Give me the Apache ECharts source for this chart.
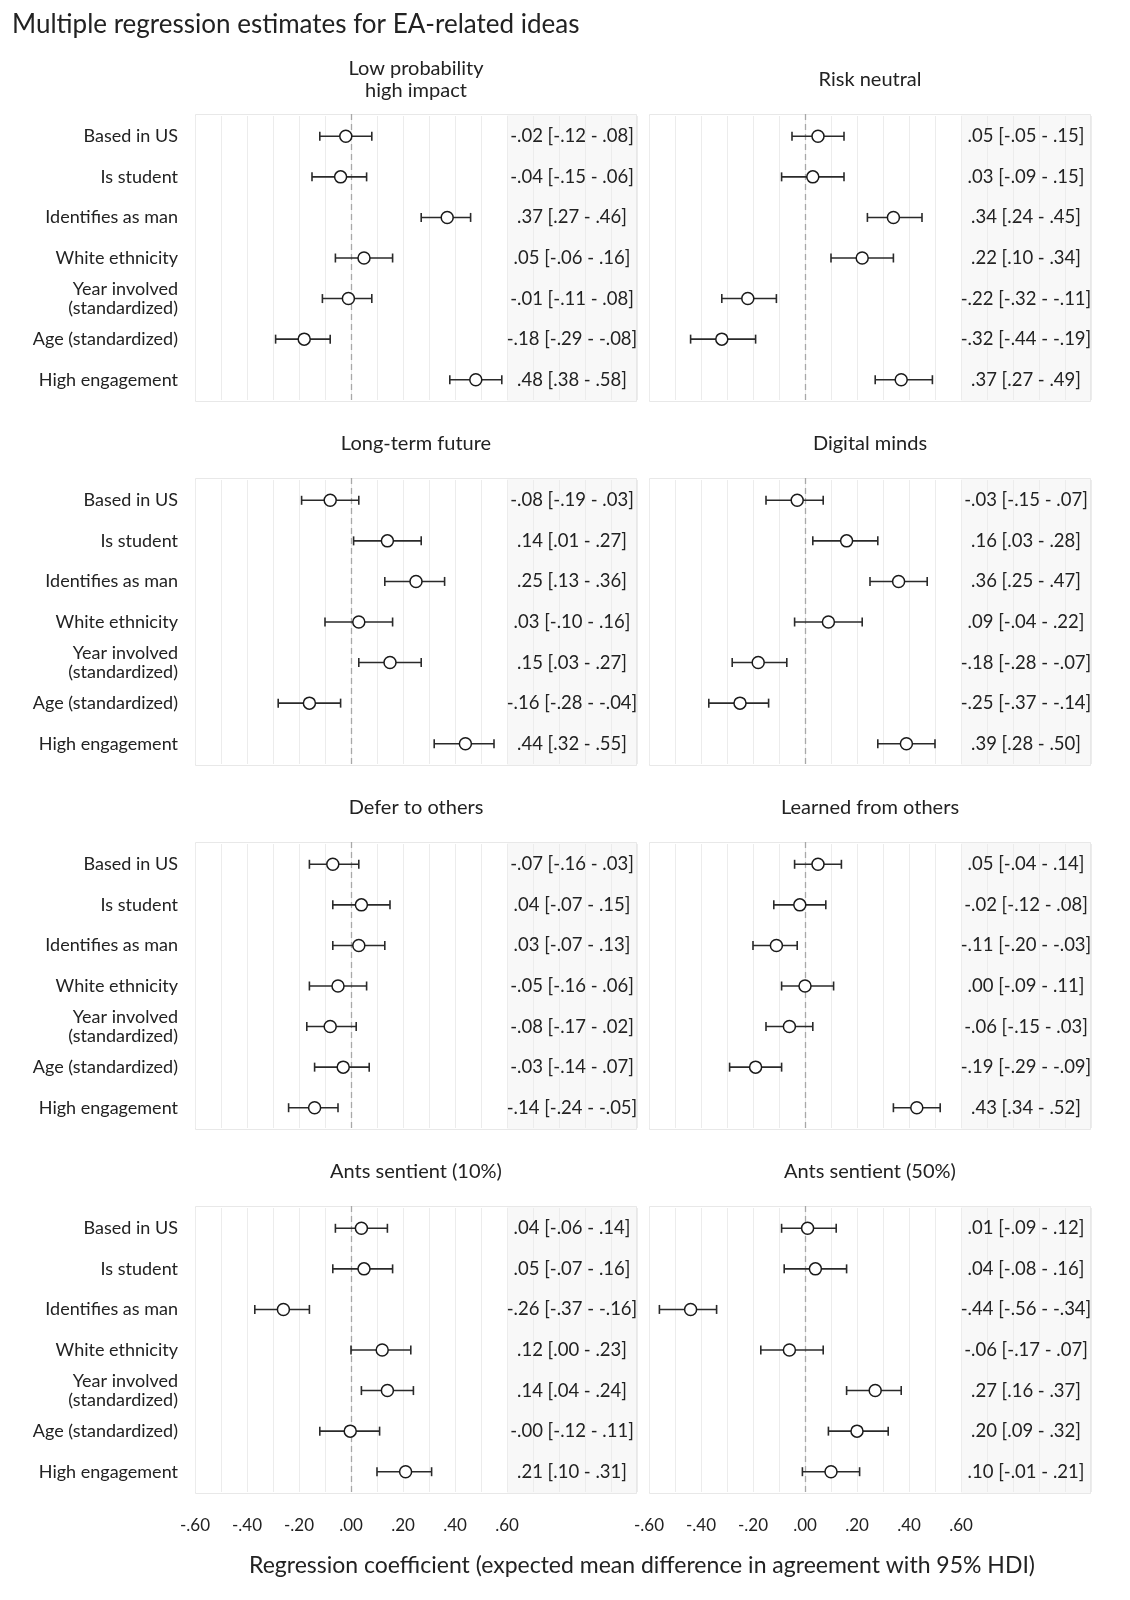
<!DOCTYPE html>
<html><head><meta charset="utf-8">
<script src="https://cdn.jsdelivr.net/npm/echarts@6/dist/echarts.min.js"></script>
<style>html,body{margin:0;padding:0;background:#fff}#c{width:1130px;height:1600px}</style>
</head><body><div id="c"></div><script>
const predictors = ['Based in US','Is student','Identifies as man','White ethnicity','Year involved\n(standardized)','Age (standardized)','High engagement'];
const xTicks = [-0.6,-0.4,-0.2,0,0.2,0.4,0.6];
const panelTitles = ['Low probability\nhigh impact','Risk neutral','Long-term future','Digital minds','Defer to others','Learned from others','Ants sentient (10%)','Ants sentient (50%)'];
// each row: [estimate, lower HDI, upper HDI]
const lowProbability = [[-0.02,-0.12,0.08],[-0.04,-0.15,0.06],[0.37,0.27,0.46],[0.05,-0.06,0.16],[-0.01,-0.11,0.08],[-0.18,-0.29,-0.08],[0.48,0.38,0.58]];
const riskNeutral = [[0.05,-0.05,0.15],[0.03,-0.09,0.15],[0.34,0.24,0.45],[0.22,0.10,0.34],[-0.22,-0.32,-0.11],[-0.32,-0.44,-0.19],[0.37,0.27,0.49]];
const longTermFuture = [[-0.08,-0.19,0.03],[0.14,0.01,0.27],[0.25,0.13,0.36],[0.03,-0.10,0.16],[0.15,0.03,0.27],[-0.16,-0.28,-0.04],[0.44,0.32,0.55]];
const digitalMinds = [[-0.03,-0.15,0.07],[0.16,0.03,0.28],[0.36,0.25,0.47],[0.09,-0.04,0.22],[-0.18,-0.28,-0.07],[-0.25,-0.37,-0.14],[0.39,0.28,0.50]];
const deferToOthers = [[-0.07,-0.16,0.03],[0.04,-0.07,0.15],[0.03,-0.07,0.13],[-0.05,-0.16,0.06],[-0.08,-0.17,0.02],[-0.03,-0.14,0.07],[-0.14,-0.24,-0.05]];
const learnedFromOthers = [[0.05,-0.04,0.14],[-0.02,-0.12,0.08],[-0.11,-0.20,-0.03],[0.00,-0.09,0.11],[-0.06,-0.15,0.03],[-0.19,-0.29,-0.09],[0.43,0.34,0.52]];
const antsSentient10 = [[0.04,-0.06,0.14],[0.05,-0.07,0.16],[-0.26,-0.37,-0.16],[0.12,0.00,0.23],[0.14,0.04,0.24],[-0.003,-0.12,0.11],[0.21,0.10,0.31]];
const antsSentient50 = [[0.01,-0.09,0.12],[0.04,-0.08,0.16],[-0.44,-0.56,-0.34],[-0.06,-0.17,0.07],[0.27,0.16,0.37],[0.20,0.09,0.32],[0.10,-0.01,0.21]];
const panels = [lowProbability, riskNeutral, longTermFuture, digitalMinds, deferToOthers, learnedFromOthers, antsSentient10, antsSentient50];

const FONT = 'Lato, "Noto Sans", sans-serif';
const TXT = '#222';
function fmt(v){ if (Math.abs(v) < 1e-9) v = 0; const s = Math.abs(v).toFixed(2).replace(/^0/, ''); return (v < 0 ? '-' : '') + s; }

const rowTop = [114, 478, 842, 1206];
const colLeft = [195, 649];
const W = 442, H = 288, PAD = 2;

const grids = [], xAxes = [], yAxes = [], series = [], graphics = [];
panels.forEach((rows, i) => {
  const r = Math.floor(i / 2), c = i % 2;
  grids.push({left: colLeft[c], top: rowTop[r] + PAD, width: W, height: H - 2 * PAD, show: false, containLabel: false});
  xAxes.push({
    type: 'value', gridIndex: i, min: -0.6, max: 1.1, interval: 0.1, z: 2,
    axisLine: {show: false}, axisTick: {show: false},
    splitLine: {show: true, lineStyle: {color: '#ececec', width: 1}},
    axisLabel: {show: r === 3, margin: 25, fontSize: 17, color: TXT, fontFamily: FONT,
      formatter: v => xTicks.some(t => Math.abs(t - v) < 1e-6) ? fmt(v) : ''}
  });
  yAxes.push({
    type: 'category', gridIndex: i, data: predictors, inverse: true,
    axisLine: {show: false}, axisTick: {show: false}, splitLine: {show: false},
    axisLabel: {show: c === 0, margin: 17, fontSize: 18, color: TXT, fontFamily: FONT, lineHeight: 19, align: 'right'}
  });
  // panel frame and shaded text region
  series.push({
    type: 'custom', xAxisIndex: i, yAxisIndex: i, z: 1, silent: true,
    dimensions: ['x', 'y'], encode: {x: 0, y: 1},
    data: [[0.6, 0]],
    renderItem: (params, api) => {
      const cs = params.coordSys;
      const x0 = api.coord([api.value(0), 0])[0];
      const top = cs.y - PAD, h = cs.height + 2 * PAD;
      return {type: 'group', children: [
        {type: 'rect', shape: {x: x0, y: top, width: cs.x + cs.width - x0, height: h}, style: {fill: '#f8f8f8'}},
        {type: 'rect', shape: {x: cs.x + 0.5, y: top + 0.5, width: cs.width - 1, height: h - 1}, style: {fill: 'none', stroke: '#e8e8e8', lineWidth: 1}}
      ]};
    }
  });
  // dashed zero reference line
  series.push({
    type: 'custom', xAxisIndex: i, yAxisIndex: i, z: 3, silent: true,
    dimensions: ['x', 'y'], encode: {x: 0, y: 1},
    data: [[0, 0]],
    renderItem: (params, api) => {
      const cs = params.coordSys;
      const x0 = Math.round(api.coord([api.value(0), 0])[0]) + 0.5;
      return {type: 'line', shape: {x1: x0, y1: cs.y - PAD, x2: x0, y2: cs.y + cs.height + PAD}, style: {stroke: '#a8a8a8', lineWidth: 1.3, lineDash: [6, 4]}};
    }
  });
  series.push({
    type: 'custom', xAxisIndex: i, yAxisIndex: i, z: 4, silent: true,
    dimensions: ['est', 'lo', 'hi', 'cat'],
    data: rows.map((d, k) => [d[0], d[1], d[2], k]),
    encode: {x: [0, 1, 2], y: 3},
    renderItem: (params, api) => {
      const est = api.value(0), lo = api.value(1), hi = api.value(2), cat = api.value(3);
      const pE = api.coord([est, cat]);
      const xl = api.coord([lo, cat])[0], xh = api.coord([hi, cat])[0];
      const y = pE[1];
      const tx = api.coord([0.85, cat])[0];
      const ls = {stroke: '#2a2a2a', lineWidth: 1.6};
      return {type: 'group', children: [
        {type: 'line', shape: {x1: xl, y1: y, x2: xh, y2: y}, style: ls},
        {type: 'line', shape: {x1: xl, y1: y - 4.5, x2: xl, y2: y + 4.5}, style: ls},
        {type: 'line', shape: {x1: xh, y1: y - 4.5, x2: xh, y2: y + 4.5}, style: ls},
        {type: 'circle', shape: {cx: pE[0], cy: y, r: 6}, style: {fill: '#fff', stroke: '#1a1a1a', lineWidth: 1.5}},
        {type: 'text', style: {text: fmt(est) + ' [' + fmt(lo) + ' - ' + fmt(hi) + ']', x: tx, y: y, align: 'center', verticalAlign: 'middle', fontSize: 18.5, fontFamily: FONT, fill: TXT}}
      ]};
    }
  });
  const cx = colLeft[c] + W / 2;
  graphics.push({type: 'text', x: cx, y: rowTop[r] - 34, style: {text: panelTitles[i], x: 0, y: 0, align: 'center', verticalAlign: 'middle', fontSize: 20, lineHeight: 22, fontFamily: FONT, fill: TXT}});
});
graphics.push({type: 'text', x: 12, y: 25, style: {text: 'Multiple regression estimates for EA-related ideas', align: 'left', verticalAlign: 'middle', fontSize: 26, fontFamily: FONT, fill: TXT}});
graphics.push({type: 'text', x: 642, y: 1566, style: {text: 'Regression coefficient (expected mean difference in agreement with 95% HDI)', align: 'center', verticalAlign: 'middle', fontSize: 23, fontFamily: FONT, fill: TXT}});

const chart = echarts.init(document.getElementById('c'), null, {renderer: 'canvas'});
chart.setOption({animation: false, backgroundColor: '#fff', grid: grids, xAxis: xAxes, yAxis: yAxes, series: series, graphic: graphics});
</script></body></html>
